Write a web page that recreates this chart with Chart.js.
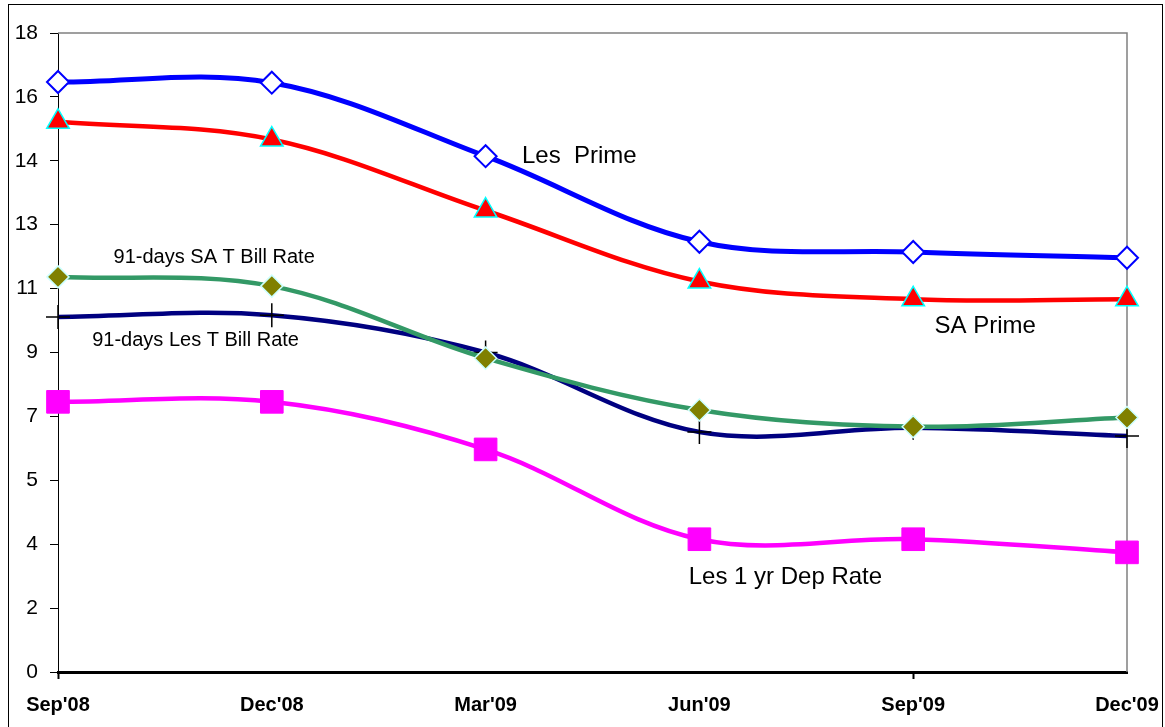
<!DOCTYPE html>
<html>
<head>
<meta charset="utf-8">
<script src="https://cdn.jsdelivr.net/npm/chart.js@4.4.0/dist/chart.umd.min.js"></script>
<style>
  html, body { margin: 0; padding: 0; background: #fff; }
  canvas { display: block; }
</style>
</head>
<body>
<canvas id="rateChart" width="1165" height="727"></canvas>
<script>
// quarters on the x axis
const quarters = ["Sep'08", "Dec'08", "Mar'09", "Jun'09", "Sep'09", "Dec'09"];
// rates in percent
const lesPrime = [16.62, 16.6, 14.53, 12.12, 11.83, 11.67];
const saPrime = [15.5, 15.0, 13.0, 11.0, 10.5, 10.5];
const saTBill = [11.13, 10.87, 8.84, 7.38, 6.91, 7.17];
const lesTBill = [10.0, 10.05, 9.0, 6.76, 6.88, 6.65];
const lesDepRate = [7.61, 7.61, 6.27, 3.74, 3.74, 3.37];
// Excel split 0-18 in ten steps and rounded the labels
const yTickValues = [0, 1.8, 3.6, 5.4, 7.2, 9, 10.8, 12.6, 14.4, 16.2, 18];
const yTickLabels = ["0", "2", "4", "5", "7", "9", "11", "13", "14", "16", "18"];
// names written on the plot
const noteText = ["Les  Prime", "SA Prime", "Les 1 yr Dep Rate", "91-days SA T Bill Rate", "91-days Les T Bill Rate"];
// where they sit: [quarter index, rate] of the left end of the baseline
const noteAt = [[2.17, 14.34], [4.1, 9.54], [2.95, 2.49], [0.26, 11.51], [0.16, 9.19]];
const noteSize = [24, 24, 24, 20, 20];

const fontFamily = "'Liberation Sans', Arial, sans-serif";
Chart.defaults.font.family = fontFamily;

// white page, plot frame, outer frame and the series names
const framePlugin = {
  id: "framePlugin",
  beforeDraw(chart) {
    const ctx = chart.ctx;
    ctx.save();
    ctx.fillStyle = "#fff";
    ctx.fillRect(0, 0, chart.width, chart.height);
    ctx.restore();
  },
  beforeDatasetsDraw(chart) {
    const { ctx, chartArea } = chart;
    ctx.save();
    ctx.strokeStyle = "#808080";
    ctx.lineWidth = 1.5;
    ctx.beginPath();
    ctx.moveTo(chartArea.left, chartArea.top);
    ctx.lineTo(chartArea.right, chartArea.top);
    ctx.lineTo(chartArea.right, chartArea.bottom);
    ctx.stroke();
    ctx.restore();
  },
  afterDraw(chart) {
    const ctx = chart.ctx;
    const xScale = chart.scales.x;
    const yScale = chart.scales.y;
    ctx.save();
    ctx.strokeStyle = "#000";
    ctx.lineWidth = 1;
    ctx.strokeRect(8.5, 4.5, 1154, 740);
    ctx.fillStyle = "#000";
    ctx.textAlign = "left";
    ctx.textBaseline = "alphabetic";
    noteText.forEach((txt, i) => {
      ctx.font = noteSize[i] + "px " + fontFamily;
      ctx.fillText(txt, xScale.getPixelForValue(noteAt[i][0]), yScale.getPixelForValue(noteAt[i][1]));
    });
    ctx.restore();
  },
};

const ctx = document.querySelector("#rateChart").getContext("2d");

new Chart(ctx, {
  type: "line",
  data: {
    labels: quarters,
    datasets: [
      {
        label: "Les 1 yr Dep Rate",
        data: lesDepRate,
        borderColor: "#FF00FF",
        borderWidth: 4.5,
        pointStyle: "rect",
        pointRadius: 16,
        pointBackgroundColor: "#FF00FF",
        pointBorderColor: "#FF00FF",
        pointBorderWidth: 1,
      },
      {
        label: "Les Prime",
        data: lesPrime,
        borderColor: "#0000FF",
        borderWidth: 5,
        pointStyle: "rectRot",
        pointRadius: 11,
        pointBackgroundColor: "#fff",
        pointBorderColor: "#0000FF",
        pointBorderWidth: 2,
      },
      {
        label: "SA Prime",
        data: saPrime,
        borderColor: "#FF0000",
        borderWidth: 4.5,
        pointStyle: "triangle",
        pointRadius: 13,
        pointBackgroundColor: "#FF0000",
        pointBorderColor: "#00FFFF",
        pointBorderWidth: 1.5,
      },
      {
        label: "91-days SA T Bill Rate",
        data: saTBill,
        borderColor: "#339966",
        borderWidth: 4.5,
        pointStyle: "rectRot",
        pointRadius: 11,
        pointBackgroundColor: "#808000",
        pointBorderColor: "#CCFFFF",
        pointBorderWidth: 1.5,
      },
      {
        label: "91-days Les T Bill Rate",
        data: lesTBill,
        borderColor: "#000080",
        borderWidth: 4.5,
        pointStyle: "cross",
        pointRadius: 12,
        pointBorderColor: "#000",
        pointBorderWidth: 1.5,
      },
    ],
  },
  options: {
    responsive: false,
    devicePixelRatio: 1,
    animation: false,
    elements: { line: { tension: 0.35 } },
    datasets: { line: { clip: false } },
    layout: { padding: { top: 33, right: 38, left: 0, bottom: 0 } },
    plugins: { legend: { display: false }, tooltip: { enabled: false } },
    scales: {
      x: {
        offset: false,
        grid: {
          drawOnChartArea: false,
          tickLength: 7,
          tickWidth: 2,
          tickColor: (c) => (c.index % 4 === 0 ? "#000" : "rgba(0,0,0,0)"),
        },
        border: { color: "#000", width: 3 },
        ticks: {
          color: "#000",
          font: { size: 20, weight: "bold" },
          padding: 14,
          maxRotation: 0,
          autoSkip: false,
        },
        afterFit: (s) => {
          s.height = 55;
          // let the layout padding decide the right edge, not the last label
          s.paddingLeft = 0;
          s.paddingRight = 0;
        },
      },
      y: {
        min: 0,
        max: 18,
        afterBuildTicks: (s) => { s.ticks = yTickValues.map((v) => ({ value: v })); },
        grid: { drawOnChartArea: false, tickLength: 8, tickColor: "#000" },
        border: { color: "#000", width: 1 },
        ticks: {
          color: "#000",
          font: { size: 21 },
          padding: 12,
          callback: (v, i) => yTickLabels[i],
        },
        afterFit: (s) => { s.width = 58; },
      },
    },
  },
  plugins: [framePlugin],
});
</script>
</body>
</html>
